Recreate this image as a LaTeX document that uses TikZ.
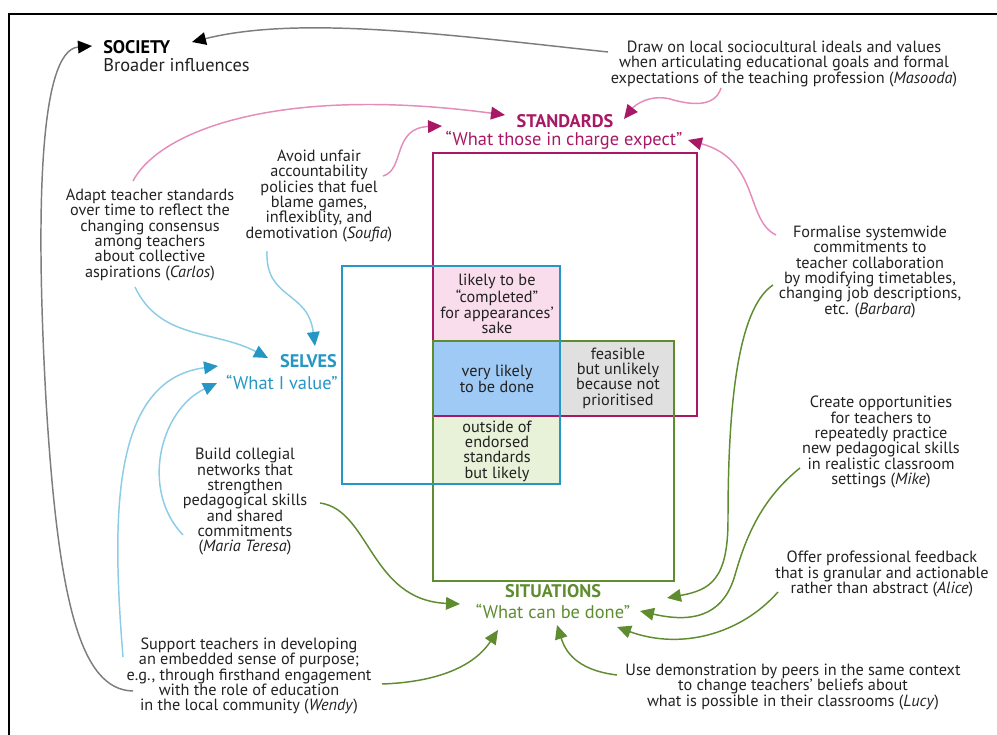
\documentclass[tikz,border=0pt]{standalone}
\usepackage{fontspec}
\setmainfont{PT Sans}
\usetikzlibrary{arrows.meta}
\definecolor{stdc}{RGB}{168,24,100}
\definecolor{stdl}{RGB}{228,140,186}
\definecolor{selc}{RGB}{38,150,196}
\definecolor{sell}{RGB}{140,204,228}
\definecolor{sitc}{RGB}{94,140,46}
\definecolor{txt}{RGB}{34,34,34}
\definecolor{gline}{RGB}{125,125,125}
\definecolor{pinkf}{RGB}{249,221,236}
\definecolor{bluef}{RGB}{160,202,246}
\definecolor{grayf}{RGB}{224,224,224}
\definecolor{greenf}{RGB}{231,242,216}
\tikzset{
  note/.style={font=\fontsize{12.2}{11.5}\selectfont, text=txt, align=center, inner sep=0pt},
  ttl/.style={font=\fontsize{13.7}{14}\selectfont\bfseries, inner sep=0pt},
  subt/.style={font=\fontsize{13.8}{14}\selectfont, inner sep=0pt},
  boxline/.style={line width=1.8pt},
  conn/.style={line width=1.1pt},
  pinkarr/.style={conn, stdl, -{Triangle[length=10.5pt,width=9.5pt,color=stdc]}},
  bluearr/.style={conn, sell, -{Triangle[length=10.5pt,width=9.5pt,color=selc]}},
  greenarr/.style={conn, sitc, -{Triangle[length=10.5pt,width=9.5pt,color=sitc]}},
  grayarr/.style={conn, gline, -{Triangle[length=10.5pt,width=9.5pt,color=black]}}
}
\begin{document}
\begin{tikzpicture}[x=0.75pt,y=-0.75pt]
\useasboundingbox (0,0) rectangle (997,735);
% frame
\draw[line width=1.5pt, black] (9,735) -- (9,14) -- (997,14);

% region fills
\fill[pinkf] (433,266) rectangle (560,341);
\fill[bluef] (433,341) rectangle (560,416);
\fill[grayf] (560,341) rectangle (674,416);
\fill[greenf] (433,416) rectangle (560,484);

% boxes
\draw[boxline, stdc] (433,153) rectangle (697,416);
\draw[boxline, sitc] (433,341) rectangle (674,581);
\draw[boxline, selc] (342,266) rectangle (560,484);

% cell texts
\node[note] (cpink) at (497,304) {likely to be\\“completed”\\for appearances’\\sake};
\node[note] (cblue) at (497,379) {very likely\\to be done};
\node[note] (cgray) at (618,378) {feasible\\but unlikely\\because not\\prioritised};
\node[note] (cgreen) at (497,451) {outside of\\endorsed\\standards\\but likely};

% titles
\node[ttl, text=black, anchor=west] (socT) at (103,47) {SOCIETY};
\node[subt, text=txt, anchor=west] (socS) at (103,65) {Broader influences};
\node[ttl, text=stdc] (stdT) at (565,121) {STANDARDS};
\node[subt, text=stdc] (stdS) at (564,140) {“What those in charge expect”};
\node[ttl, text=selc, anchor=east] (selT) at (337,361) {SELVES};
\node[subt, text=selc, anchor=east] (selS) at (338,382) {“What I value”};
\node[ttl, text=sitc] (sitT) at (553,591) {SITUATIONS};
\node[subt, text=sitc] (sitS) at (553,611) {“What can be done”};

% notes
\node[note] (masooda) at (784,64) {Draw on local sociocultural ideals and values\\when articulating educational goals and formal\\expectations of the teaching profession (\textit{Masooda})};
\node[note] (soufia) at (319,196) {Avoid unfair\\accountability\\policies that fuel\\blame games,\\inflexiblity, and\\demotivation (\textit{Soufia})};
\node[note] (carlos) at (150,235) {Adapt teacher standards\\over time to reflect the\\changing consensus\\among teachers\\about collective\\aspirations (\textit{Carlos})};
\node[note] (barbara) at (870,272) {Formalise systemwide\\commitments to\\teacher collaboration\\by modifying timetables,\\changing job descriptions,\\etc. (\textit{Barbara})};
\node[note] (mike) at (881,442) {Create opportunities\\for teachers to\\repeatedly practice\\new pedagogical skills\\in realistic classroom\\settings (\textit{Mike})};
\node[note] (maria) at (245,502) {Build collegial\\networks that\\strengthen\\pedagogical skills\\and shared\\commitments\\(\textit{Maria Teresa})};
\node[note] (alice) at (882,574) {Offer professional feedback\\that is granular and actionable\\rather than abstract (\textit{Alice})};
\node[note] (lucy) at (793,687) {Use demonstration by peers in the same context\\to change teachers’ beliefs about\\what is possible in their classrooms (\textit{Lucy})};
\node[note] (wendy) at (249,676) {Support teachers in developing\\an embedded sense of purpose;\\e.g., through firsthand engagement\\with the role of education\\in the local community (\textit{Wendy})};

% connector end points
\coordinate (mG) at (608,52);
\coordinate (socR) at (192,42);
\coordinate (wG) at (133,691);
\coordinate (socL) at (92,46);
\coordinate (cP) at (133,181);
\coordinate (stdA1) at (505,115);
\coordinate (sP) at (383,176);
\coordinate (stdA2) at (442,126);
\coordinate (mP) at (721,88);
\coordinate (stdA3) at (624,119);
\coordinate (bP) at (776,235);
\coordinate (stdA4) at (688,140);
\coordinate (cB) at (135,287);
\coordinate (selA1) at (268,358);
\coordinate (sB) at (267,251);
\coordinate (selA2) at (315,346);
\coordinate (wB) at (123,657);
\coordinate (selA3) at (218,366);
\coordinate (mtB) at (183,535);
\coordinate (selA4) at (217,383);
\coordinate (mtG) at (320,503);
\coordinate (sitA1) at (460,604);
\coordinate (wGr) at (382,684);
\coordinate (sitA2) at (498,630);
\coordinate (bG) at (773,285);
\coordinate (sitA3) at (667,598);
\coordinate (mkG) at (800,468);
\coordinate (sitA4) at (640,611);
\coordinate (aG) at (778,592);
\coordinate (sitA5) at (617,627);
\coordinate (lG) at (617,675);
\coordinate (sitA6) at (557,625);

% society connectors
\draw[grayarr] (mG) .. controls (450,35) and (300,15) .. (socR);
\draw[grayarr] (wG) .. controls (80,690) and (58,600) .. (46,400) .. controls (36,220) and (38,50) .. (socL);

% standards connectors
\draw[pinkarr] (cP) .. controls (160,130) and (280,85) .. (stdA1);
\draw[pinkarr] (sP) .. controls (405,170) and (392,128) .. (stdA2);
\draw[pinkarr] (mP) .. controls (715,108) and (690,105) .. (670,99) .. controls (650,94) and (635,105) .. (stdA3);
\draw[pinkarr] (bP) .. controls (745,220) and (760,160) .. (stdA4);

% selves connectors
\draw[bluearr] (cB) .. controls (160,340) and (215,330) .. (selA1);
\draw[bluearr] (sB) .. controls (265,300) and (308,290) .. (selA2);
\draw[bluearr] (wB) .. controls (112,520) and (110,380) .. (selA3);
\draw[bluearr] (mtB) .. controls (140,490) and (160,410) .. (selA4);

% situations connectors
\draw[greenarr] (mtG) .. controls (370,510) and (370,600) .. (sitA1);
\draw[greenarr] (wGr) .. controls (440,682) and (475,665) .. (sitA2);
\draw[greenarr] (bG) .. controls (735,310) and (728,420) .. (728,520) .. controls (728,580) and (710,590) .. (sitA3);
\draw[greenarr] (mkG) .. controls (760,500) and (745,540) .. (735,575) .. controls (725,610) and (700,625) .. (sitA4);
\draw[greenarr] (aG) .. controls (740,635) and (680,650) .. (sitA5);
\draw[greenarr] (lG) .. controls (575,670) and (565,650) .. (sitA6);
\end{tikzpicture}
\end{document}
